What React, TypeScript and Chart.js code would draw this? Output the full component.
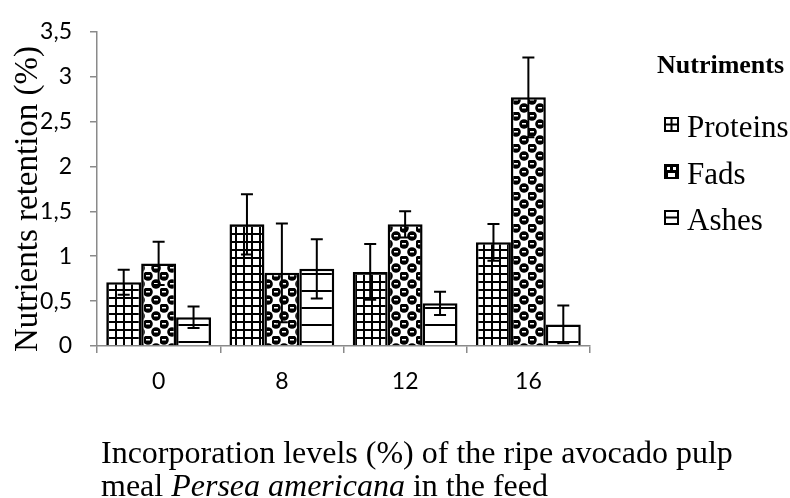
import React, { useEffect, useRef } from "react";
import { Chart, registerables } from "chart.js";

Chart.register(...registerables);

// Incorporation levels (%) of avocado pulp meal in the feed
const categories = ["0", "8", "12", "16"];

// Nutrient retention (%) and their error margins
const proteins = [0.71, 1.355, 0.825, 1.155];
const proteinsErr = [0.14, 0.335, 0.31, 0.205];
const fads = [0.92, 0.815, 1.355, 2.77];
const fadsErr = [0.24, 0.55, 0.145, 0.445];
const ashes = [0.32, 0.86, 0.475, 0.24];
const ashesErr = [0.12, 0.33, 0.13, 0.21];

const seriesNames = ["Proteins", "Fads", "Ashes"];
const legendTitle = "Nutriments";
const yTitle = "Nutrients retention (%)";
const xTitleLine1 = "Incorporation levels (%) of the ripe avocado pulp";
const xTitleLine2 = ["meal ", "Persea americana", " in the feed"];

const SERIF = "'Liberation Serif', 'Times New Roman', serif";
const SANS = "Lato, 'Open Sans', sans-serif";
const AXIS_GREY = "#8a8a8a";

function makeTile(w: number, h: number, draw: (c: CanvasRenderingContext2D) => void) {
  const tile = document.createElement("canvas");
  tile.width = w;
  tile.height = h;
  const c = tile.getContext("2d")!;
  c.fillStyle = "#fff";
  c.fillRect(0, 0, w, h);
  c.fillStyle = "#000";
  draw(c);
  return tile;
}

function makePatterns(ctx: CanvasRenderingContext2D) {
  // square grid
  const grid = makeTile(8, 8, (c) => {
    c.fillRect(0, 1, 8, 2);
    c.fillRect(3, 0, 2, 8);
  });
  // checkerboard of dark spheres
  const balls = makeTile(16, 16, (c) => {
    const blob = (x: number, y: number) => {
      c.fillStyle = "#000";
      c.beginPath();
      c.arc(x, y, 4.8, 0, Math.PI * 2);
      c.fill();
      c.fillStyle = "#fff";
      c.fillRect(x - 2, y - 1, 4, 1.5);
    };
    for (const [x, y] of [
      [4, 4],
      [12, 12],
      [-4, 12],
      [12, -4],
      [20, 12],
      [12, 20],
    ]) {
      blob(x, y);
    }
  });
  // widely spaced horizontal lines
  const lines = makeTile(8, 17, (c) => {
    c.fillRect(0, 1, 8, 2);
  });
  return [grid, balls, lines].map((t) => ctx.createPattern(t, "repeat")!);
}

// Vertical error bars with caps at both ends
const errorBarsPlugin = {
  id: "errorBars",
  afterDatasetsDraw(chart: any) {
    const { ctx } = chart;
    const y = chart.scales.y;
    ctx.save();
    ctx.strokeStyle = "#000";
    ctx.lineWidth = 2;
    chart.data.datasets.forEach((ds: any, i: number) => {
      const meta = chart.getDatasetMeta(i);
      meta.data.forEach((bar: any, j: number) => {
        const v = ds.data[j];
        const e = ds.errors[j];
        const top = y.getPixelForValue(v + e);
        const bottom = y.getPixelForValue(Math.max(0, v - e));
        const cap = 6;
        ctx.beginPath();
        ctx.moveTo(bar.x, top);
        ctx.lineTo(bar.x, bottom);
        ctx.moveTo(bar.x - cap, top);
        ctx.lineTo(bar.x + cap, top);
        ctx.moveTo(bar.x - cap, bottom);
        ctx.lineTo(bar.x + cap, bottom);
        ctx.stroke();
      });
    });
    ctx.restore();
  },
};

// Axis titles and the legend block on the right
const annotationsPlugin = {
  id: "annotations",
  afterDraw(chart: any) {
    const { ctx } = chart;
    ctx.save();
    ctx.fillStyle = "#000";

    // y-axis title
    ctx.save();
    ctx.translate(28, 199);
    ctx.rotate(-Math.PI / 2);
    ctx.font = `33px ${SERIF}`;
    ctx.textAlign = "center";
    ctx.textBaseline = "middle";
    ctx.fillText(yTitle, 0, 0);
    ctx.restore();

    // x-axis title, two lines with an italic species name
    ctx.textAlign = "left";
    ctx.textBaseline = "alphabetic";
    ctx.font = `32px ${SERIF}`;
    ctx.fillText(xTitleLine1, 101, 463);
    let x = 101;
    xTitleLine2.forEach((part, k) => {
      ctx.font = k === 1 ? `italic 32px ${SERIF}` : `32px ${SERIF}`;
      ctx.fillText(part, x, 496);
      x += ctx.measureText(part).width;
    });

    // legend
    ctx.font = `bold 26px ${SERIF}`;
    ctx.fillText(legendTitle, 657, 73);
    const baselines = [137, 184, 230];
    chart.data.datasets.forEach((ds: any, i: number) => {
      const bx = 664;
      const by = baselines[i] - 20;
      const s = 15;
      ctx.lineWidth = 2;
      ctx.strokeStyle = "#000";
      if (i === 1) {
        ctx.fillStyle = "#000";
        ctx.fillRect(bx, by, s, s);
        ctx.fillStyle = "#fff";
        ctx.fillRect(bx + 3, by + 3, 3, 3);
        ctx.fillRect(bx + 9, by + 3, 3, 3);
        ctx.fillRect(bx + 4, by + 9, 7, 4);
      } else {
        ctx.fillStyle = "#fff";
        ctx.fillRect(bx, by, s, s);
        ctx.strokeRect(bx + 1, by + 1, s - 2, s - 2);
        ctx.beginPath();
        ctx.moveTo(bx + 1, by + s / 2);
        ctx.lineTo(bx + s - 1, by + s / 2);
        if (i === 0) {
          ctx.moveTo(bx + s / 2, by + 1);
          ctx.lineTo(bx + s / 2, by + s - 1);
        }
        ctx.stroke();
      }
      ctx.fillStyle = "#000";
      ctx.font = `31px ${SERIF}`;
      ctx.fillText(ds.label, 687, baselines[i]);
    });
    ctx.restore();
  },
};

export default function App() {
  const canvasRef = useRef<HTMLCanvasElement>(null);

  useEffect(() => {
    const canvas = canvasRef.current!;
    const ctx = canvas.getContext("2d")!;
    const patterns = makePatterns(ctx);
    const values = [proteins, fads, ashes];
    const errors = [proteinsErr, fadsErr, ashesErr];

    const chart = new Chart(ctx, {
      type: "bar",
      data: {
        labels: categories,
        datasets: seriesNames.map((name, i) => ({
          label: name,
          data: values[i],
          errors: errors[i],
          backgroundColor: patterns[i],
          borderColor: "#000",
          borderWidth: 2.5,
          categoryPercentage: 0.85,
          barPercentage: 1,
        })) as any,
      },
      options: {
        responsive: false,
        animation: false,
        devicePixelRatio: 1,
        layout: { padding: { top: 27, right: 200, left: 0, bottom: 0 } },
        plugins: {
          legend: { display: false },
          tooltip: { enabled: false },
        },
        scales: {
          x: {
            grid: {
              offset: true,
              drawOnChartArea: false,
              drawTicks: true,
              tickLength: 7,
              color: AXIS_GREY,
              lineWidth: 1.5,
            },
            border: { color: AXIS_GREY, width: 1.5 },
            ticks: {
              color: "#000",
              font: { family: SANS, size: 23 },
              padding: 15,
            },
            afterFit: (s: any) => {
              s.height = 152;
            },
          },
          y: {
            min: 0,
            max: 3.5,
            grid: {
              drawOnChartArea: false,
              drawTicks: true,
              tickLength: 7,
              color: AXIS_GREY,
              lineWidth: 1.5,
            },
            border: { color: AXIS_GREY, width: 1.5 },
            ticks: {
              stepSize: 0.5,
              color: "#000",
              font: { family: SANS, size: 23 },
              padding: 18,
              callback: (v: any) => String(v).replace(".", ","),
            },
            afterFit: (s: any) => {
              s.width = 97;
            },
          },
        },
      },
      plugins: [errorBarsPlugin, annotationsPlugin],
    });
    return () => chart.destroy();
  }, []);

  return (
    <div style={{ position: "absolute", left: 0, top: 0, width: 790, height: 498, background: "#fff" }}>
      <canvas ref={canvasRef} width={790} height={498} />
    </div>
  );
}
